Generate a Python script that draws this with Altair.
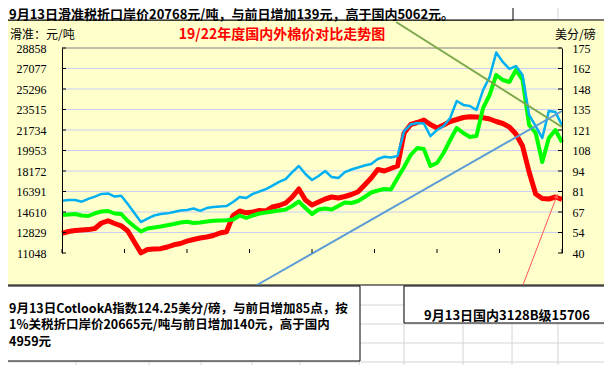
import json
import altair as alt
import pandas as pd

# ---------------- data ----------------
dates = pd.date_range("2019-10-15", periods=77, freq="14D")

# red: 国内3128B (元/吨, left axis)
domestic_3128b = [12760, 12916, 13003, 13046, 13081, 13177, 13654, 13846, 13611, 13411,
                  12959, 12004, 11060, 11352, 11396, 11422, 11569, 11760, 11873, 12073,
                  12221, 12351, 12438, 12568, 12786, 12899, 14300, 14697, 14541, 14610,
                  14740, 14697, 15044, 15175, 15392, 15913, 16608, 15653, 15218, 15479,
                  15740, 15913, 15826, 15957, 16130, 16365, 16956, 17564, 18302, 18172,
                  18389, 18607, 21474, 22212, 22386, 22603, 22212, 21908, 22169, 22473,
                  22647, 22820, 22890, 22864, 22794, 22690, 22473, 22299, 21995, 21387,
                  20344, 18085, 16174, 15783, 15740, 15913, 15706]
# green: 1%关税折口岸价 (元/吨, left axis)
import_1pct = [14349, 14393, 14436, 14306, 14263, 14497, 14654, 14697, 14480, 14436,
               13828, 13350, 12916, 13177, 13263, 13350, 13463, 13568, 13698, 13759,
               13654, 13698, 13785, 13846, 13872, 13898, 13958, 14306, 14089, 14306,
               14480, 14567, 14654, 14740, 14827, 15131, 15522, 14958, 14436, 14827,
               14914, 14827, 15131, 15435, 15392, 15566, 15913, 16304, 16478, 16608,
               16565, 17564, 18520, 19562, 20170, 20084, 18607, 18867, 19736, 20865,
               21908, 21474, 21126, 21213, 23646, 24775, 26513, 26078, 25904, 26947,
               26078, 22169, 21474, 18954, 21039, 21734, 20665]
# blue: Cotlook A (美分/磅, right axis)
cotlook_a = [74.4, 74.9, 74.9, 73.8, 75.6, 77.1, 78.9, 79.2, 77.2, 77.7,
             72.3, 66.3, 60.4, 62.7, 64.7, 65.7, 66.1, 67.0, 68.0, 68.3,
             69.3, 67.7, 69.6, 70.3, 70.6, 70.9, 73.6, 76.9, 76.2, 78.9,
             80.5, 82.1, 84.4, 86.8, 88.7, 93.3, 97.3, 92.0, 88.1, 90.7,
             94.0, 90.0, 89.4, 93.3, 95.0, 96.3, 97.6, 98.6, 101.9, 103.4,
             102.9, 103.9, 120.3, 124.6, 125.6, 125.3, 117.0, 121.0, 123.6, 128.9,
             140.1, 137.5, 136.8, 134.2, 147.3, 155.9, 172.0, 165.8, 161.2, 163.1,
             157.2, 130.9, 123.6, 115.7, 133.5, 132.8, 124.25]

x_tick_labels = ["19/10/15", "20/2/25", "20/7/7", "20/11/17", "21/3/30",
                 "21/8/10", "21/12/21", "22/5/3", "22/9/13"]
left_ticks = [11048, 12829, 14610, 16391, 18172, 19953, 21734, 23515, 25296, 27077, 28858]
right_ticks = [40, 53.5, 67, 80.5, 94, 107.5, 121, 134.5, 148, 161.5, 175]

# drawn trend lines (date, 元/吨)
olive_line = (["2021-09-25", "2022-09-13"], [31117, 21995])
blue_line = (["2020-12-03", "2022-09-13"], [8268, 23385])
arrow_line = (["2022-06-22", "2022-09-02"], [8268, 16000])

top_text = "9月13日滑准税折口岸价20768元/吨，与前日增加139元，高于国内5062元。"
box_lines = ["9月13日CotlookA指数124.25美分/磅，与前日增加85点，按",
             "1%关税折口岸价20665元/吨与前日增加140元，高于国内",
             "4959元"]
right_text = "9月13日国内3128B级15706"
title_text = "19/22年度国内外棉价对比走势图"

# ---------------- build ----------------
t0 = dates[0]
day = [(d - t0).days for d in dates]
df = pd.DataFrame({"day": day, "red": domestic_3128b, "green": import_1pct, "blue": cotlook_a})

tick_days = [(pd.to_datetime("20" + s, format="%Y/%m/%d") - t0).days for s in x_tick_labels]
step = tick_days[1]


def seg(spec):
    ds, vs = spec
    return pd.DataFrame({"day": [(pd.to_datetime(d) - t0).days for d in ds], "v": vs})


W, H = 500, 205
CJK = "Noto Sans CJK SC"
NUM = "Liberation Serif"
xs = alt.Scale(domain=[0, tick_days[-1]], nice=False, zero=False)
yL = alt.Scale(domain=[left_ticks[0], left_ticks[-1]], nice=False, zero=False)
yR = alt.Scale(domain=[right_ticks[0], right_ticks[-1]], nice=False, zero=False)

one = pd.DataFrame({"a": [0]})

x_axis = alt.Axis(orient="bottom", values=tick_days, tickSize=0, labelPadding=7,
                  labelExpr=json.dumps(x_tick_labels) + "[round(datum.value/%d)]" % step,
                  labelFont=NUM, labelFontSize=12, labelColor="black", domainColor="black",
                  grid=False, title=None, labelFlush=False, labelOverlap=False, zindex=1)
left_axis = alt.Axis(orient="left", values=left_ticks, format="d", tickSize=0, labelPadding=16,
                     labelFont=NUM, labelFontSize=12, labelColor="black", domainColor="black",
                     grid=False, title=None, labelOverlap=False, zindex=1)
right_axis = alt.Axis(orient="right", values=right_ticks, format=".0f", tickSize=0, labelPadding=10,
                      labelFont=NUM, labelFontSize=12, labelColor="black", domainColor="black",
                      grid=False, title=None, labelOverlap=False, zindex=1)


def vrule(px, y0, y1, color, w=1):
    return alt.Chart(one).mark_rule(color=color, strokeWidth=w).encode(
        x=alt.value(px), y=alt.value(y0), y2=alt.value(y1))


def hrule(py, x0, x1, color, w=1):
    return alt.Chart(one).mark_rule(color=color, strokeWidth=w).encode(
        y=alt.value(py), x=alt.value(x0), x2=alt.value(x1))


def box(x0, x1, y0, y1, fill, stroke="black"):
    return alt.Chart(one).mark_rect(fill=fill, stroke=stroke, strokeWidth=1).encode(
        x=alt.value(x0), x2=alt.value(x1), y=alt.value(y0), y2=alt.value(y1))


def label(txt, px, py, size=13, weight="bold", color="black", align="left", font=CJK):
    return alt.Chart(one).mark_text(align=align, baseline="middle", font=font, fontSize=size,
                                    fontWeight=weight, color=color).encode(
        x=alt.value(px), y=alt.value(py), text=alt.value(txt))


# sheet grid (behind everything)
sheet = [vrule(px, -48, 325, "#D4D4D4") for px in [14, 87, 139, 190, 238, 297, 342, 401, 450, 496, 549]]
sheet += [hrule(py, -62, 550, "#D4D4D4") for py in [-28, 257, 276, 295, 314]]

chart_area = box(-60, 547, -28, 237, "#FFFFCC")

grid_df = pd.DataFrame({"v": left_ticks[1:-1]})
gridlines = alt.Chart(grid_df).mark_rule(color="#C8CFF0", strokeWidth=1).encode(
    y=alt.Y("v:Q", scale=yL, axis=None), x=alt.value(0), x2=alt.value(W))
topline = alt.Chart(pd.DataFrame({"v": [left_ticks[-1]]})).mark_rule(color="#808080", strokeWidth=1).encode(
    y=alt.Y("v:Q", scale=yL, axis=None), x=alt.value(0), x2=alt.value(W))

red = alt.Chart(df).mark_line(color="#FF0000", strokeWidth=5, strokeJoin="round").encode(
    x=alt.X("day:Q", scale=xs, axis=x_axis), y=alt.Y("red:Q", scale=yL, axis=left_axis))
green = alt.Chart(df).mark_line(color="#00FF00", strokeWidth=4, strokeJoin="round").encode(
    x=alt.X("day:Q", scale=xs, axis=None), y=alt.Y("green:Q", scale=yL, axis=None))
blue = alt.Chart(df).mark_line(color="#00B0F0", strokeWidth=2.5, strokeJoin="round").encode(
    x=alt.X("day:Q", scale=xs, axis=None), y=alt.Y("blue:Q", scale=yR, axis=right_axis))


def trend(spec, color, w):
    return alt.Chart(seg(spec)).mark_line(color=color, strokeWidth=w, clip=False).encode(
        x=alt.X("day:Q", scale=xs, axis=None), y=alt.Y("v:Q", scale=yL, axis=None))


olive = trend(olive_line, "#7AA84A", 2)
bline = trend(blue_line, "#5B9BD5", 2)
arrow = trend(arrow_line, "#FF5555", 1)
tip = seg(arrow_line).iloc[[1]]
arrow_head = alt.Chart(tip).mark_point(shape="triangle-up", filled=True, color="#FF5555", size=25,
                                       angle=21, opacity=1, clip=False).encode(
    x=alt.X("day:Q", scale=xs, axis=None), y=alt.Y("v:Q", scale=yL, axis=None))

lt_df = pd.DataFrame({"v": left_ticks})
lticks = alt.Chart(lt_df).mark_rule(color="black").encode(
    y=alt.Y("v:Q", scale=yL, axis=None), x=alt.value(0), x2=alt.value(4))
rt_df = pd.DataFrame({"v": right_ticks})
rticks = alt.Chart(rt_df).mark_rule(color="black").encode(
    y=alt.Y("v:Q", scale=yR, axis=None), x=alt.value(W - 4), x2=alt.value(W))
bt_df = pd.DataFrame({"day": tick_days})
bticks = alt.Chart(bt_df).mark_rule(color="black").encode(
    x=alt.X("day:Q", scale=xs, axis=None), y=alt.value(H - 4), y2=alt.value(H))

front = [
    box(-62, 451, -48, -28, "white"),
    label(top_text, -53, -33.5),
    box(-62, 298, 238, 313, "white"),
    label(box_lines[0], -53, 260.5, size=12.5),
    label(box_lines[1], -53, 277, size=12.5),
    label(box_lines[2], -53, 293.5, size=12.5),
    box(342, 549, 238, 275, "white"),
    label(right_text, 445, 268, align="center"),
    label(title_text, 220, -13, size=14, color="#FF0000", align="center"),
    label("滑准：元/吨", -52, -13, size=12, weight="normal"),
    label("美分/磅", 493, -13, size=12, weight="normal"),
]

layers = sheet + [chart_area, gridlines, topline, red, green, blue, olive, bline, arrow, arrow_head,
                  lticks, rticks, bticks] + front

chart = alt.layer(*layers).resolve_scale(y="independent").properties(
    width=W, height=H,
    autosize=alt.AutoSizeParams(type="none"),
    padding={"left": 54, "top": 40, "right": 42, "bottom": 112},
    background="white",
).configure_view(strokeWidth=0)

chart.save("out.html", embed_options={"renderer": "svg", "actions": False})
